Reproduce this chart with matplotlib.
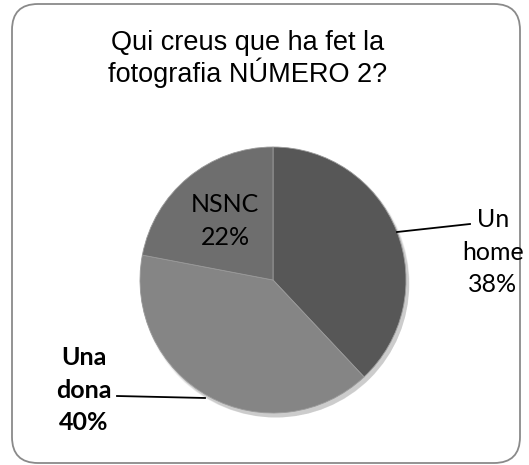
import matplotlib.pyplot as plt
from matplotlib.patches import FancyBboxPatch, Circle

# Survey answers (percent)
labels = ['Un\nhome', 'Una\ndona', 'NSNC']
values = [38, 40, 22]
colors = ['#575757', '#858585', '#6e6e6e']
title = 'Qui creus que ha fet la\nfotografia NÚMERO 2?'

W, H = 529, 465
fig = plt.figure(figsize=(W / 100, H / 100), dpi=100)
ax = fig.add_axes([0, 0, 1, 1])

# rounded chart frame
frame = FancyBboxPatch((12, 2), 508, 459, boxstyle='round,pad=0,rounding_size=26',
                       facecolor='white', edgecolor='#8a8a8a', linewidth=1.3, zorder=0)
ax.add_patch(frame)

cx, cy, r = 273, 185, 133

# soft shadow under the pie
for i, a in enumerate([0.05, 0.05, 0.05, 0.06]):
    ax.add_patch(Circle((cx + 2 + i * 0.5, cy - 3 - i * 0.7), r + 1.5 - i * 0.7,
                        facecolor='black', alpha=a, edgecolor='none', zorder=1))

wedges, _ = ax.pie(values, colors=colors, startangle=90, counterclock=False,
                   center=(cx, cy), radius=r, frame=True,
                   wedgeprops=dict(edgecolor='#9a9a9a', linewidth=0.6, zorder=2))
ax.set_xlim(0, W)
ax.set_ylim(0, H)
ax.set_aspect('equal')
ax.axis('off')

# va='baseline' anchors the last line of multi-line text
ax.text(248, H - 82, title, ha='center', va='baseline', fontsize=19.5,
        family='Liberation Sans', linespacing=1.05)

lab_font = 'Lato'
ax.text(493, H - 292, f'{labels[0]}\n{values[0]}%', ha='center', va='baseline',
        fontsize=18, family=lab_font, linespacing=1.5)
ax.text(225, H - 245, f'{labels[2]}\n{values[2]}%', ha='center', va='baseline',
        fontsize=18, family=lab_font, linespacing=1.5)
ax.text(84, H - 430, f'{labels[1]}\n{values[1]}%', ha='center', va='baseline',
        fontsize=18, family=lab_font, fontweight='bold', linespacing=1.5)

# leader lines
ax.plot([397, 470], [H - 232, H - 224], color='black', linewidth=1.3, zorder=3)
ax.plot([117, 205], [H - 396, H - 398], color='black', linewidth=1.3, zorder=3)

fig.savefig('out.png', dpi=100)
